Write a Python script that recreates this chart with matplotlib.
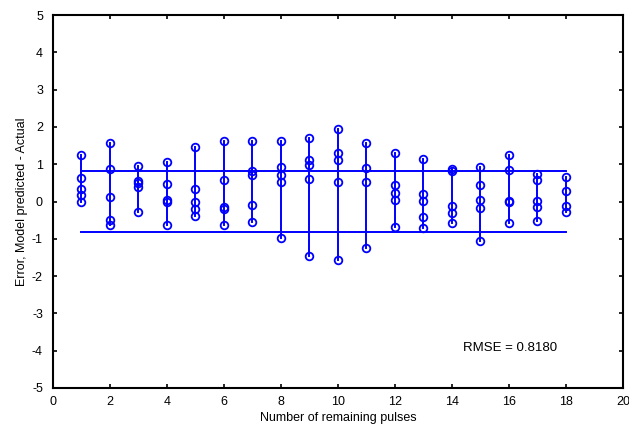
import numpy as np
import matplotlib.pyplot as plt

plt.rcParams['font.family'] = ['Liberation Sans', 'DejaVu Sans']
plt.rcParams['axes.unicode_minus'] = False

# errors (model predicted - actual) for each number of remaining pulses
pulses = list(range(1, 19))
errors = [
    [1.26, 0.64, 0.33, 0.18, 0.00],
    [1.56, 0.88, 0.12, -0.50, -0.62],
    [0.94, 0.56, 0.49, 0.40, -0.27],
    [1.05, 0.46, 0.04, -0.02, -0.63],
    [1.47, 0.34, -0.02, -0.20, -0.40],
    [1.63, 0.59, -0.14, -0.19, -0.63],
    [1.63, 0.81, 0.70, -0.09, -0.54],
    [1.61, 0.92, 0.70, 0.52, -0.98],
    [1.71, 1.10, 0.99, 0.61, -1.45],
    [1.95, 1.30, 1.12, 0.51, -1.58],
    [1.57, 0.91, 0.51, -1.25],
    [1.29, 0.43, 0.23, 0.05, -0.67],
    [1.13, 0.20, 0.01, -0.41, -0.72],
    [0.86, 0.82, -0.13, -0.30, -0.57],
    [0.92, 0.45, 0.04, -0.18, -1.07],
    [1.25, 0.85, 0.02, 0.00, -0.57],
    [0.74, 0.58, 0.02, -0.16, -0.51],
    [0.65, 0.29, -0.13, -0.29],
]
rmse = 0.8180

fig = plt.figure(figsize=(6.29, 4.30), dpi=100)
ax = fig.add_axes([0.0838, 0.0977, 0.9067, 0.8673])

blue = '#0000ff'
for x, e in zip(pulses, errors):
    ax.plot([x, x], [min(e), max(e)], color=blue, lw=1.4)
    ax.plot([x] * len(e), e, 'o', mfc='none', mec=blue, ms=5.5, mew=1.3)

# +/- RMSE band
ax.plot([pulses[0], pulses[-1]], [rmse, rmse], color=blue, lw=1.4)
ax.plot([pulses[0], pulses[-1]], [-rmse, -rmse], color=blue, lw=1.4)

ax.text(16.05, -3.93, 'RMSE = %.4f' % rmse, ha='center', va='center', fontsize=9.5)

ax.set_xlim(0, 20)
ax.set_ylim(-5, 5)
ax.set_xticks(range(0, 21, 2))
ax.set_yticks(range(-5, 6))
ax.tick_params(direction='in', top=True, right=True, length=3, width=1.2, labelsize=9)
ax.tick_params(axis='x', pad=6)
ax.tick_params(axis='y', pad=7)
for s in ax.spines.values():
    s.set_linewidth(1.5)
ax.set_xlabel('Number of remaining pulses', fontsize=9, labelpad=3)
ax.set_ylabel('Error, Model predicted - Actual', fontsize=9, labelpad=3)

fig.savefig('out.png', dpi=100)
